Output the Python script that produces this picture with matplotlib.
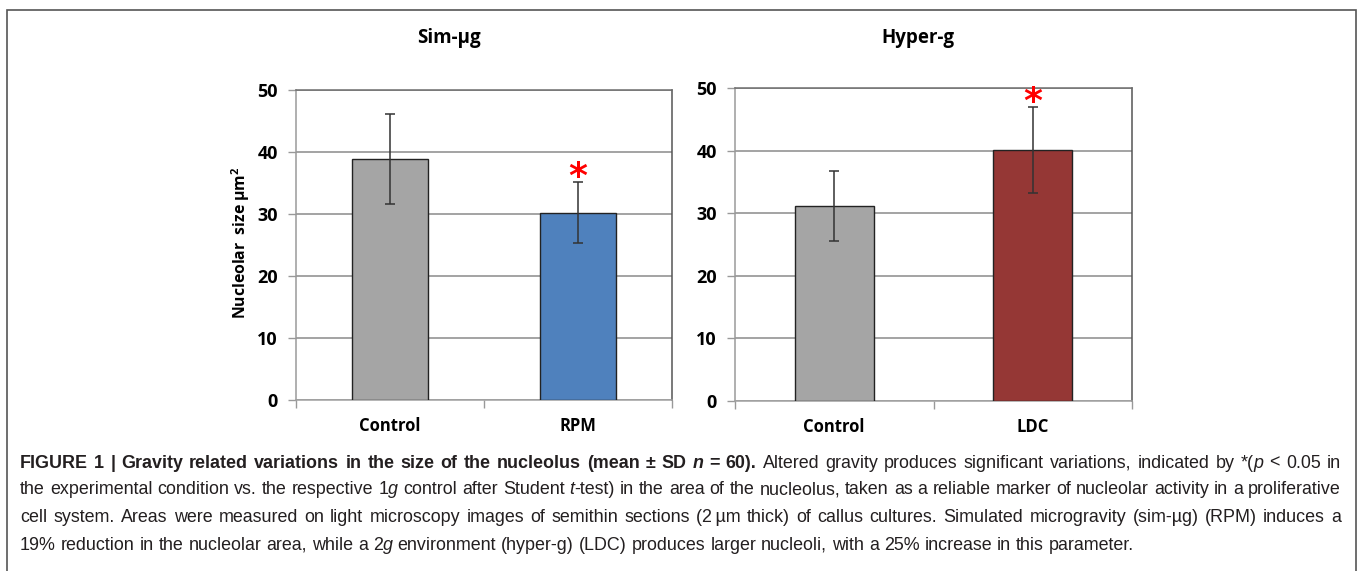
import matplotlib
matplotlib.use("Agg")
import numpy as np
from matplotlib import pyplot as plt
from matplotlib.patches import Rectangle

# data
left_cats = ["Control", "RPM"]
left_means = [38.9, 30.2]
left_sd = [7.3, 4.9]
left_colors = ["#a5a5a5", "#4f81bd"]

right_cats = ["Control", "LDC"]
right_means = [31.2, 40.1]
right_sd = [5.6, 6.8]
right_colors = ["#a5a5a5", "#953735"]

titles = ["Sim-µg", "Hyper-g"]
signif = [[False, True], [False, True]]
y_ticks = [0, 10, 20, 30, 40, 50]

chart_font = ["Open Sans", "DejaVu Sans"]
cap_font = ["Liberation Sans", "DejaVu Sans"]

W, H = 1358, 571
fig = plt.figure(figsize=(W / 100, H / 100), dpi=100)


def fx(px):
    return px / W


def fy(py):
    return 1 - py / H


# outer frame around figure + caption
fig.patches.append(Rectangle((fx(7), fy(585)), fx(1356) - fx(7), fy(10) - fy(585),
                             transform=fig.transFigure, fill=False,
                             edgecolor="#555555", linewidth=1.2, clip_on=False))


def draw_panel(box, cats, means, sd, colors, stars, title, title_x):
    ax = fig.add_axes(box)
    x = np.arange(len(cats))
    ax.bar(x, means, width=0.4, color=colors, edgecolor="#222222", linewidth=1, zorder=3)
    ax.errorbar(x, means, yerr=sd, fmt="none", ecolor="#333333", elinewidth=1.1,
                capsize=3.5, capthick=1.1, zorder=4)
    for xi, m, s, st in zip(x, means, sd, stars):
        if st:
            ax.text(xi, m + s - 1.8, "*", color="red", ha="center", va="bottom",
                    fontsize=26, fontweight="bold", family="DejaVu Sans", zorder=5)
    ax.set_xlim(-0.5, len(cats) - 0.5)
    ax.set_ylim(0, 50)
    ax.set_yticks(y_ticks)
    ax.set_yticklabels([str(t) for t in y_ticks], fontsize=13, fontweight="bold",
                       family=chart_font)
    ax.set_xticks(x)
    ax.set_xticklabels(cats, fontsize=12, fontweight="bold", family=chart_font)
    ax.tick_params(axis="x", which="major", length=0, pad=12)
    ax.set_xticks(np.arange(-0.5, len(cats)), minor=True)
    ax.tick_params(axis="x", which="minor", length=6, color="#999999", width=1)
    ax.tick_params(axis="y", length=6, color="#999999", width=1, pad=7)
    ax.grid(axis="y", color="#8a8a8a", linewidth=1.1, zorder=0)
    ax.set_axisbelow(True)
    ax.spines["left"].set_color("#9a9a9a")
    ax.spines["bottom"].set_color("#a0a0a0")
    ax.spines["top"].set_color("#6e6e6e")
    ax.spines["right"].set_color("#555555")
    for s in ax.spines.values():
        s.set_linewidth(1.1)
    fig.text(fx(title_x), fy(38), title, ha="center", va="center", fontsize=13.5,
             fontweight="bold", family=chart_font)
    return ax


ax1 = draw_panel([fx(296), fy(400), fx(672) - fx(296), fy(90) - fy(400)],
                 left_cats, left_means, left_sd, left_colors, signif[0], titles[0], 449)
ax2 = draw_panel([fx(735), fy(401), fx(1132) - fx(735), fy(88) - fy(401)],
                 right_cats, right_means, right_sd, right_colors, signif[1], titles[1], 918)

fig.text(fx(241), fy(243), "Nucleolar  size µm$^\\mathregular{2}$", rotation=90,
         ha="center", va="center", fontsize=11.3, fontweight="bold", family=chart_font)

# caption, set word by word so lines can be justified
B, I, N, BI = ("bold", "normal"), ("normal", "italic"), ("normal", "normal"), ("bold", "italic")
caption = [
    [("FIGURE 1 | Gravity related variations in the size of the nucleolus (mean ± SD ", B),
     ("n", BI), (" = 60).", B),
     (" Altered gravity produces significant variations, indicated by *(", N), ("p", I),
     (" < 0.05 in", N)],
    [("the experimental condition vs. the respective 1", N), ("g", I),
     (" control after Student ", N), ("t", I),
     ("-test) in the area of the nucleolus, taken as a reliable marker of nucleolar activity in a proliferative", N)],
    [("cell system. Areas were measured on light microscopy images of semithin sections (2\u2009µm thick) of callus cultures. Simulated microgravity (sim-µg) (RPM) induces a", N)],
    [("19% reduction in the nucleolar area, while a 2", N), ("g", I),
     (" environment (hyper-g) (LDC) produces larger nucleoli, with a 25% increase in this parameter.", N)],
]
cap_y = [463, 490, 517, 545]
cap_x0, cap_x1 = 20, 1341
cap_size = 12.9

fig.canvas.draw()
renderer = fig.canvas.get_renderer()


def tokens_of(line):
    toks = []
    glue = False
    for text, (wt, st) in line:
        parts = text.split(" ")
        for k, p in enumerate(parts):
            if k == 0 and glue:
                if p:
                    toks[-1].append((p, wt, st))
            elif p:
                toks.append([(p, wt, st)])
        glue = not text.endswith(" ")
    return toks


def width_of(s, wt, st):
    t = fig.text(0, 0, s, fontsize=cap_size, fontweight=wt, fontstyle=st, family=cap_font)
    w = t.get_window_extent(renderer).width
    t.remove()
    return w


space_w = width_of("a a", "normal", "normal") - width_of("aa", "normal", "normal")

for li, line in enumerate(caption):
    toks = tokens_of(line)
    widths = [[width_of(p, wt, st) for p, wt, st in tok] for tok in toks]
    total = sum(sum(w) for w in widths)
    if li < len(caption) - 1:
        gap = (cap_x1 - cap_x0 - total) / (len(toks) - 1)
    else:
        gap = space_w
    xpos = cap_x0
    for tok, ws in zip(toks, widths):
        for (p, wt, st), w in zip(tok, ws):
            fig.text(fx(xpos), fy(cap_y[li]), p, fontsize=cap_size, fontweight=wt,
                     fontstyle=st, family=cap_font, va="center", ha="left", color="#231f20")
            xpos += w
        xpos += gap

fig.savefig("out.png", dpi=100)
